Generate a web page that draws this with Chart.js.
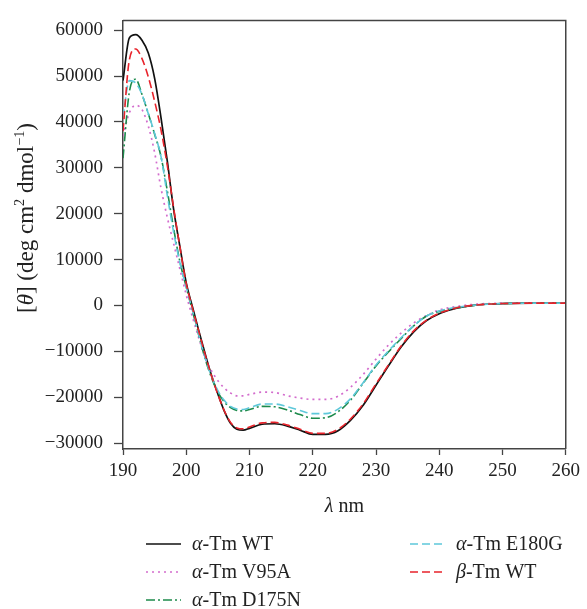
<!DOCTYPE html>
<html>
<head>
<meta charset="utf-8">
<script src="https://cdn.jsdelivr.net/npm/chart.js@4/dist/chart.umd.min.js"></script>
<style>
  html, body { margin: 0; padding: 0; background: #fff; }
  #wrap { width: 587px; height: 609px; }
</style>
</head>
<body>
<div id="wrap"><canvas id="cdChart"></canvas></div>
<script>
// wavelength (nm) and mean residue ellipticity for each protein
const wavelengths = [190,191,192,193,194,195,196,197,198,199,200,201,202,203,204,205,206,207,208,209,210,
  212,214,216,218,220,222,224,226,228,230,232,234,236,238,240,242,244,246,248,250,255,260];

const alphaWT = [49000,58300,59000,57800,55000,49500,41000,31500,21000,12800,4900,-400,-5600,-10600,-15300,-19300,-23000,-25700,-27000,-27200,-26800,
  -25900,-25800,-26300,-27200,-28100,-28100,-27300,-25000,-21700,-17400,-13100,-9000,-5700,-3300,-1800,-900,-300,100,300,400,500,500];

const alphaV95A = [37000,42000,43600,42700,39100,33300,25600,19200,13500,7900,2300,-2600,-7200,-11500,-14300,-16400,-18000,-19100,-19700,-19700,-19400,
  -18900,-19000,-19700,-20200,-20500,-20500,-19800,-17800,-15000,-11700,-8600,-6000,-3800,-2200,-1000,-400,0,300,400,500,500,500];

const alphaD175N = [32100,46500,49300,46000,41800,37300,32500,25000,16800,9500,4000,-1300,-6600,-11700,-15800,-18900,-21000,-22300,-22900,-23000,-22700,
  -22000,-22100,-22800,-23800,-24600,-24500,-23200,-20600,-16900,-13200,-10100,-7200,-4400,-2300,-1300,-700,-300,100,300,400,500,500];

const alphaE180G = [41000,49000,48500,46000,41800,37500,32500,24000,16000,9300,4000,-1200,-6500,-11500,-15500,-18600,-20700,-22000,-22600,-22700,-22300,
  -21500,-21500,-22100,-22900,-23600,-23600,-22600,-20300,-16800,-13000,-9900,-7000,-4400,-2300,-1200,-600,-200,100,300,400,500,500];

const betaWT = [38000,53500,55900,53800,49800,44500,38300,30500,21300,12700,4700,-700,-5800,-10800,-15400,-19400,-22900,-25500,-26700,-26900,-26500,
  -25600,-25500,-26100,-27000,-27900,-27900,-27000,-24700,-21400,-17100,-12900,-8800,-5500,-3200,-1700,-800,-200,100,300,400,500,500];

const seriesLabels = ["α-Tm WT", "α-Tm V95A", "α-Tm D175N", "α-Tm E180G", "β-Tm WT"];
const xTicks = [190, 200, 210, 220, 230, 240, 250, 260];
const yTicks = [-30000, -20000, -10000, 0, 10000, 20000, 30000, 40000, 50000, 60000];

const serif = "'Liberation Serif', 'DejaVu Serif', serif";

function toPoints(vals) {
  return wavelengths.map((w, i) => ({ x: w, y: vals[i] }));
}

const datasets = [
  { label: seriesLabels[0], data: toPoints(alphaWT), borderColor: "#111111", borderWidth: 1.7, order: 4 },
  { label: seriesLabels[1], data: toPoints(alphaV95A), borderColor: "#d36ccd", borderWidth: 1.7, borderDash: [2, 4], order: 3 },
  { label: seriesLabels[2], data: toPoints(alphaD175N), borderColor: "#1c8a4b", borderWidth: 1.6, borderDash: [9, 3, 2, 3], order: 2 },
  { label: seriesLabels[3], data: toPoints(alphaE180G), borderColor: "#5ec8da", borderWidth: 1.6, borderDash: [8, 4], order: 1 },
  { label: seriesLabels[4], data: toPoints(betaWT), borderColor: "#e8232b", borderWidth: 1.6, borderDash: [8, 4], order: 0 }
];

// draw text made of pieces, some italic or superscript
function richWidth(ctx, parts, size) {
  let w = 0;
  parts.forEach(p => {
    let s = p.sup ? size * 0.62 : size;
    ctx.font = (p.it ? "italic " : "") + s + "px " + serif;
    w += ctx.measureText(p.t).width;
  });
  return w;
}
function drawRich(ctx, parts, x, y, size) {
  parts.forEach(p => {
    let s = p.sup ? size * 0.62 : size;
    ctx.font = (p.it ? "italic " : "") + s + "px " + serif;
    ctx.fillText(p.t, x, p.sup ? y - size * 0.38 : y);
    x += ctx.measureText(p.t).width;
  });
}
function splitGreek(label) {
  return [{ t: label[0], it: true }, { t: label.slice(1) }];
}

const extras = {
  id: "extras",
  afterDraw(chart) {
    const ctx = chart.ctx, a = chart.chartArea;
    ctx.save();
    // top and right frame
    ctx.strokeStyle = "#444";
    ctx.lineWidth = 1.5;
    ctx.beginPath();
    ctx.moveTo(a.left, a.top);
    ctx.lineTo(a.right, a.top);
    ctx.lineTo(a.right, a.bottom);
    ctx.stroke();

    ctx.fillStyle = "#222";
    ctx.textBaseline = "alphabetic";
    ctx.textAlign = "left";

    // x title
    let xt = [{ t: "λ", it: true }, { t: " nm" }];
    let w = richWidth(ctx, xt, 20);
    drawRich(ctx, xt, (a.left + a.right) / 2 - w / 2, 512, 20);

    // y title
    let yt = [{ t: "[" }, { t: "θ", it: true }, { t: "] (deg cm" }, { t: "2", sup: true },
      { t: " dmol" }, { t: "−1", sup: true }, { t: ")" }];
    ctx.save();
    ctx.translate(33, 218);
    ctx.rotate(-Math.PI / 2);
    w = richWidth(ctx, yt, 23);
    drawRich(ctx, yt, -w / 2, 0, 23);
    ctx.restore();

    // legend in two columns
    const slots = [
      { x: 146, y: 544 }, { x: 146, y: 572 }, { x: 146, y: 600 },
      { x: 410, y: 544 }, { x: 410, y: 572 }
    ];
    chart.data.datasets.forEach((ds, i) => {
      const s = slots[i];
      ctx.strokeStyle = ds.borderColor;
      ctx.lineWidth = ds.borderWidth;
      ctx.setLineDash(ds.borderDash || []);
      ctx.beginPath();
      ctx.moveTo(s.x, s.y);
      ctx.lineTo(s.x + 35, s.y);
      ctx.stroke();
      ctx.setLineDash([]);
      drawRich(ctx, splitGreek(ds.label), s.x + 46, s.y + 6, 20);
    });
    ctx.restore();
  }
};

const tickFont = { family: serif, size: 19, lineHeight: 1 };

new Chart(document.getElementById("cdChart"), {
  type: "line",
  data: { datasets: datasets },
  options: {
    responsive: true,
    maintainAspectRatio: false,
    animation: false,
    layout: { padding: { top: 10, right: 19, left: 0, bottom: 0 } },
    plugins: { legend: { display: false }, tooltip: { enabled: false } },
    elements: {
      point: { radius: 0 },
      line: { cubicInterpolationMode: "monotone", fill: false }
    },
    scales: {
      x: {
        type: "linear",
        min: 190,
        max: 260,
        afterBuildTicks: s => { s.ticks = xTicks.map(v => ({ value: v })); },
        afterFit: s => { s.height = 160; },
        ticks: { font: tickFont, color: "#222", padding: 7, maxRotation: 0 },
        grid: { drawOnChartArea: false, tickLength: 6, color: "#444", tickWidth: 1.3 },
        border: { color: "#444", width: 1.5 }
      },
      y: {
        type: "linear",
        min: -31300,
        max: 62100,
        afterBuildTicks: s => { s.ticks = yTicks.map(v => ({ value: v })); },
        afterFit: s => { s.width = 123; },
        ticks: {
          font: tickFont, color: "#222", padding: 11,
          callback: v => v < 0 ? "\u2212" + Math.abs(v) : String(v)
        },
        grid: { drawOnChartArea: false, tickLength: 9, color: "#444", tickWidth: 1.3 },
        border: { color: "#444", width: 1.5 }
      }
    }
  },
  plugins: [extras]
});
</script>
</body>
</html>
